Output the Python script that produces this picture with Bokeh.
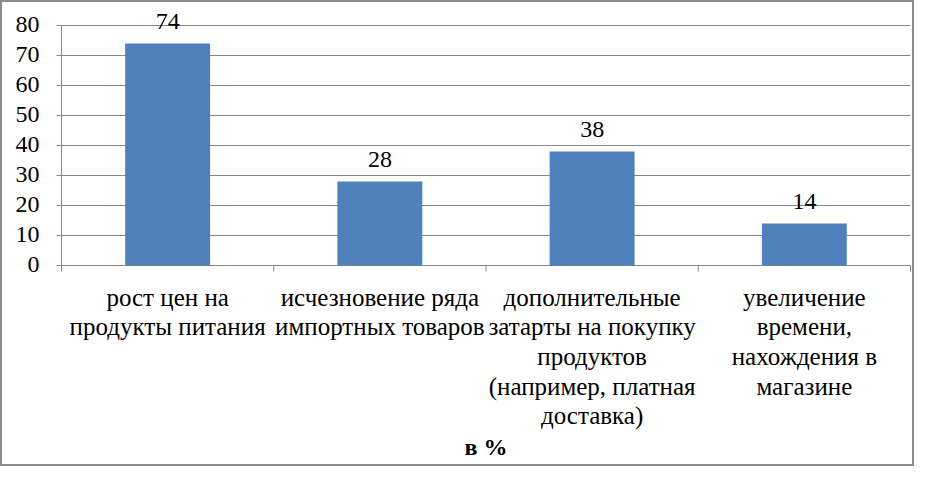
from bokeh.plotting import figure
from bokeh.models import ColumnDataSource, Range1d
from bokeh.core.properties import value
from bokeh.embed import file_html
from bokeh.resources import INLINE

categories = [
    "рост цен на\nпродукты питания",
    "исчезновение ряда\nимпортных товаров",
    "дополнительные\nзатарты на покупку\nпродуктов\n(например, платная\nдоставка)",
    "увеличение\nвремени,\nнахождения в\nмагазине",
]
values = [74, 28, 38, 14]
y_ticks = [0, 10, 20, 30, 40, 50, 60, 70, 80]
axis_title = "в %"

FONT = value("Times New Roman")
FS = "24px"
FS_CAT = "25px"
GRAY = "#868686"
BAR = "#4F81BD"

# layout (pixels inside the canvas)
W, H = 914, 466
N = len(categories)
Y_MAX = y_ticks[-1]
PLOT_L, PLOT_R, PLOT_T, PLOT_B = 59, 908, 23, 263
ppx = (PLOT_R - PLOT_L) / N
ppy = (PLOT_B - PLOT_T) / Y_MAX

x_range = Range1d(-PLOT_L / ppx, N + (W - PLOT_R) / ppx)
y_range = Range1d(-(H - PLOT_B) / ppy, Y_MAX + PLOT_T / ppy)

p = figure(width=W, height=H, output_backend="svg", toolbar_location=None,
           x_range=x_range, y_range=y_range,
           x_axis_location=None, y_axis_location=None,
           min_border_left=0, min_border_right=0, min_border_top=0, min_border_bottom=0)
p.outline_line_color = None
p.background_fill_color = "white"
p.border_fill_color = "white"
p.xgrid.visible = False
p.ygrid.visible = False

xs = [i + 0.5 for i in range(N)]
src = ColumnDataSource(dict(x=xs, top=values, lbl=[str(v) for v in values], cat=categories))

# horizontal grid lines (the one at 0 is the category axis line)
p.segment(x0=[0] * len(y_ticks), x1=[N] * len(y_ticks), y0=y_ticks, y1=y_ticks,
          line_color=GRAY, line_width=1)
# value axis line and ticks
p.segment(x0=[0], x1=[0], y0=[0], y1=[Y_MAX], line_color=GRAY, line_width=1)
p.segment(x0=[-5 / ppx] * len(y_ticks), x1=[0] * len(y_ticks), y0=y_ticks, y1=y_ticks,
          line_color=GRAY, line_width=1)
# category boundary ticks
bounds = list(range(N + 1))
p.segment(x0=bounds, x1=bounds, y0=[0] * len(bounds), y1=[-6 / ppy] * len(bounds),
          line_color=GRAY, line_width=1)

# bars
p.vbar(x="x", top="top", width=0.4, bottom=0, source=src, fill_color=BAR, line_color=None)

# value labels
p.text(x="x", y="top", text="lbl", source=src, text_align="center",
       text_baseline="alphabetic", y_offset=-22, text_font=FONT,
       text_font_size=FS, text_color="black")

# y tick labels
p.text(x=[0] * len(y_ticks), y=y_ticks, text=[str(t) for t in y_ticks],
       text_align="right", text_baseline="middle", x_offset=-22, y_offset=-1,
       text_font=FONT, text_font_size=FS, text_color="black")

# category labels
p.text(x="x", y=0, text="cat", source=src, text_align="center",
       text_baseline="top", y_offset=18, text_line_height=1.1,
       text_font=FONT, text_font_size=FS_CAT, text_color="black")

# axis title
p.text(x=[N / 2], y=[0], text=[axis_title], text_align="center",
       text_baseline="alphabetic", y_offset=181, text_font=FONT,
       text_font_size=FS, text_font_style="bold", text_color="black")

p.styles = {"border": "2px solid #8c8c8c"}

open("out.html", "w").write(file_html(p, INLINE))
